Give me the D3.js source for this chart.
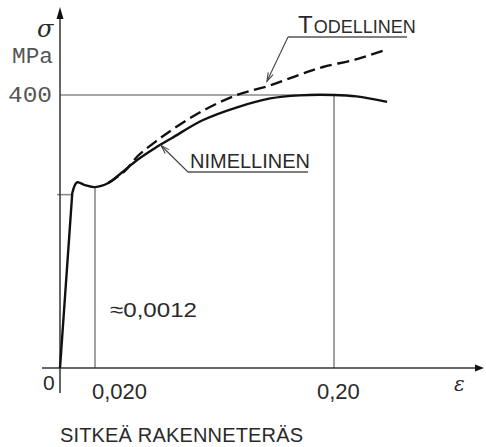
<!DOCTYPE html>
<html>
<head>
<meta charset="utf-8">
<script src="https://cdn.jsdelivr.net/npm/d3@7"></script>
<style>
  html, body { margin: 0; padding: 0; background: #fff; }
  svg { display: block; }
</style>
</head>
<body>
<svg id="chart" width="486" height="447"></svg>
<script>
// ---- data ----
const elasticStrain = [0, 0.00105];
const elasticStress = [0, 256];
const nomStrain = [0.00105, 0.0039, 0.011, 0.020, 0.030, 0.040, 0.052, 0.065, 0.078, 0.101, 0.127, 0.152, 0.174, 0.200, 0.217, 0.240];
const nomStress = [256, 272, 268, 265, 271, 286, 305, 322, 337, 363, 382, 395, 399.5, 400, 398, 390];
const trueStrain = [0.030, 0.0426, 0.0524, 0.0652, 0.078, 0.1013, 0.1269, 0.1518, 0.1744, 0.1917, 0.2173, 0.2399];
const trueStress = [271, 289, 311, 331, 349, 377, 400, 414, 430, 441, 452.5, 467];
const xTickValues = [0.020, 0.20];
const xTickLabels = ["0,020", "0,20"];
const yTickValues = [400];
const yTickLabels = ["400"];
const lowerYieldStrain = 0.020;
const lowerYieldStress = 265;
const ultimateStrain = 0.20;
const ultimateStress = 400;
const limitStress = 254;
const nomLabel = "NIMELLINEN";
const trueLabelFirst = "T";
const trueLabelRest = "ODELLINEN";
const strainNote = "≈0,0012";
const title = "SITKEÄ RAKENNETERÄS";

// ---- scales ----
const x = d3.scaleLinear().domain([0, 0.0012, 0.02, 0.20]).range([60, 74, 95, 334]);
const y = d3.scaleLinear().domain([0, 400]).range([368, 95]);

const svg = d3.select("#chart");
const axisCol = "#333";
const refCol = "#8a8a8a";
const txtCol = "#2a2a2a";

// reference lines
svg.append("line").attr("x1", x(0)).attr("x2", x(ultimateStrain)).attr("y1", y(ultimateStress)).attr("y2", y(ultimateStress))
  .attr("stroke", refCol).attr("stroke-width", 1.6);
svg.append("line").attr("x1", x(ultimateStrain)).attr("x2", x(ultimateStrain)).attr("y1", y(ultimateStress)).attr("y2", y(0))
  .attr("stroke", refCol).attr("stroke-width", 1.6);
svg.append("line").attr("x1", x(lowerYieldStrain)).attr("x2", x(lowerYieldStrain)).attr("y1", y(lowerYieldStress)).attr("y2", y(0))
  .attr("stroke", refCol).attr("stroke-width", 1.6);
svg.append("line").attr("x1", x(0) - 3).attr("x2", x(0) + 11).attr("y1", y(limitStress)).attr("y2", y(limitStress))
  .attr("stroke", refCol).attr("stroke-width", 1.6);

// axes
svg.append("line").attr("x1", 42).attr("x2", 478).attr("y1", y(0)).attr("y2", y(0))
  .attr("stroke", axisCol).attr("stroke-width", 1.5);
svg.append("path").attr("d", `M484,${y(0)} L475,${y(0) - 3.5} L475,${y(0) + 3.5} Z`).attr("fill", "#111");
svg.append("line").attr("x1", x(0)).attr("x2", x(0)).attr("y1", 393).attr("y2", 16)
  .attr("stroke", axisCol).attr("stroke-width", 1.5);
svg.append("path").attr("d", `M${x(0)},7 L${x(0) - 3.5},19 L${x(0) + 3.5},19 Z`).attr("fill", "#111");

// curves
const pairs = (a, b) => a.map((s, i) => [s, b[i]]);
const elastic = pairs(elasticStrain, elasticStress);
const nomData = pairs(nomStrain, nomStress);
const trueData = pairs(trueStrain, trueStress);
const smooth = d3.line().x(d => x(d[0])).y(d => y(d[1])).curve(d3.curveCatmullRom.alpha(0.5));
const straight = d3.line().x(d => x(d[0])).y(d => y(d[1]));

svg.append("path").attr("d", smooth(trueData)).attr("fill", "none").attr("stroke", "#111")
  .attr("stroke-width", 2.4).attr("stroke-dasharray", "12,5.5");
svg.append("path").attr("d", straight(elastic) + smooth(nomData).replace(/^M/, "L")).attr("fill", "none").attr("stroke", "#111")
  .attr("stroke-width", 2.4).attr("stroke-linejoin", "round");

// leader with open arrow
function leader(x1, y1, x2, y2) {
  svg.append("line").attr("x1", x1).attr("y1", y1).attr("x2", x2).attr("y2", y2)
    .attr("stroke", "#444").attr("stroke-width", 1.1);
  const a = Math.atan2(y2 - y1, x2 - x1);
  const L = 9, w = 0.3;
  const p1 = [x2 - L * Math.cos(a - w), y2 - L * Math.sin(a - w)];
  const p2 = [x2 - L * Math.cos(a + w), y2 - L * Math.sin(a + w)];
  svg.append("path").attr("d", `M${p1[0]},${p1[1]} L${x2},${y2} L${p2[0]},${p2[1]}`)
    .attr("fill", "none").attr("stroke", "#444").attr("stroke-width", 1.1);
}

// TODELLINEN label
const tl = svg.append("text").attr("x", 298).attr("y", 33).attr("fill", txtCol)
  .attr("font-family", "Liberation Sans, Arial, sans-serif");
tl.append("tspan").attr("font-size", 24).text(trueLabelFirst);
tl.append("tspan").attr("font-size", 18).attr("dx", 1).text(trueLabelRest);
svg.append("line").attr("x1", 288).attr("x2", 407).attr("y1", 37).attr("y2", 37).attr("stroke", "#555").attr("stroke-width", 1.3);
leader(288, 37, x(0.1495), y(420));

// NIMELLINEN label
svg.append("text").attr("x", 190).attr("y", 168).attr("fill", txtCol)
  .attr("font-family", "Liberation Sans, Arial, sans-serif").attr("font-size", 20)
  .attr("textLength", 120).attr("lengthAdjust", "spacingAndGlyphs").text(nomLabel);
svg.append("line").attr("x1", 188).attr("x2", 308).attr("y1", 172).attr("y2", 172).attr("stroke", "#555").attr("stroke-width", 1.3);
leader(188, 172, x(0.0697), y(326));

// axis labels
svg.append("text").attr("x", 37).attr("y", 37).attr("fill", txtCol)
  .attr("font-family", "DejaVu Serif, serif").attr("font-style", "italic").attr("font-size", 24).text("σ");
svg.append("text").attr("x", 12).attr("y", 63).attr("fill", "#555")
  .attr("font-family", "Liberation Mono, monospace").attr("font-size", 22)
  .attr("textLength", 41).attr("lengthAdjust", "spacingAndGlyphs").text("MPa");
yTickValues.forEach((v, i) => {
  svg.append("text").attr("x", 52).attr("y", y(v) + 7).attr("text-anchor", "end").attr("fill", "#555")
    .attr("font-family", "Liberation Mono, monospace").attr("font-size", 22)
    .attr("textLength", 44).attr("lengthAdjust", "spacingAndGlyphs").text(yTickLabels[i]);
});
svg.append("text").attr("x", 43).attr("y", 390).attr("fill", txtCol)
  .attr("font-family", "Liberation Sans, Arial, sans-serif").attr("font-size", 21).text("0");
const tickDx = [-3, -17];
xTickValues.forEach((v, i) => {
  svg.append("text").attr("x", x(v) + tickDx[i]).attr("y", 399).attr("fill", txtCol)
    .attr("font-family", "Liberation Sans, Arial, sans-serif").attr("font-size", 22).text(xTickLabels[i]);
});
svg.append("text").attr("x", 454).attr("y", 391).attr("fill", txtCol)
  .attr("font-family", "DejaVu Serif, serif").attr("font-style", "italic").attr("font-size", 20).text("ε");
svg.append("text").attr("x", 110).attr("y", 317).attr("fill", txtCol)
  .attr("font-family", "Liberation Sans, Arial, sans-serif").attr("font-size", 21)
  .attr("textLength", 87).attr("lengthAdjust", "spacingAndGlyphs").text(strainNote);
svg.append("text").attr("x", 60).attr("y", 442).attr("fill", txtCol)
  .attr("font-family", "Liberation Sans, Arial, sans-serif").attr("font-size", 20)
  .attr("textLength", 243).attr("lengthAdjust", "spacing").text(title);
</script>
</body>
</html>
